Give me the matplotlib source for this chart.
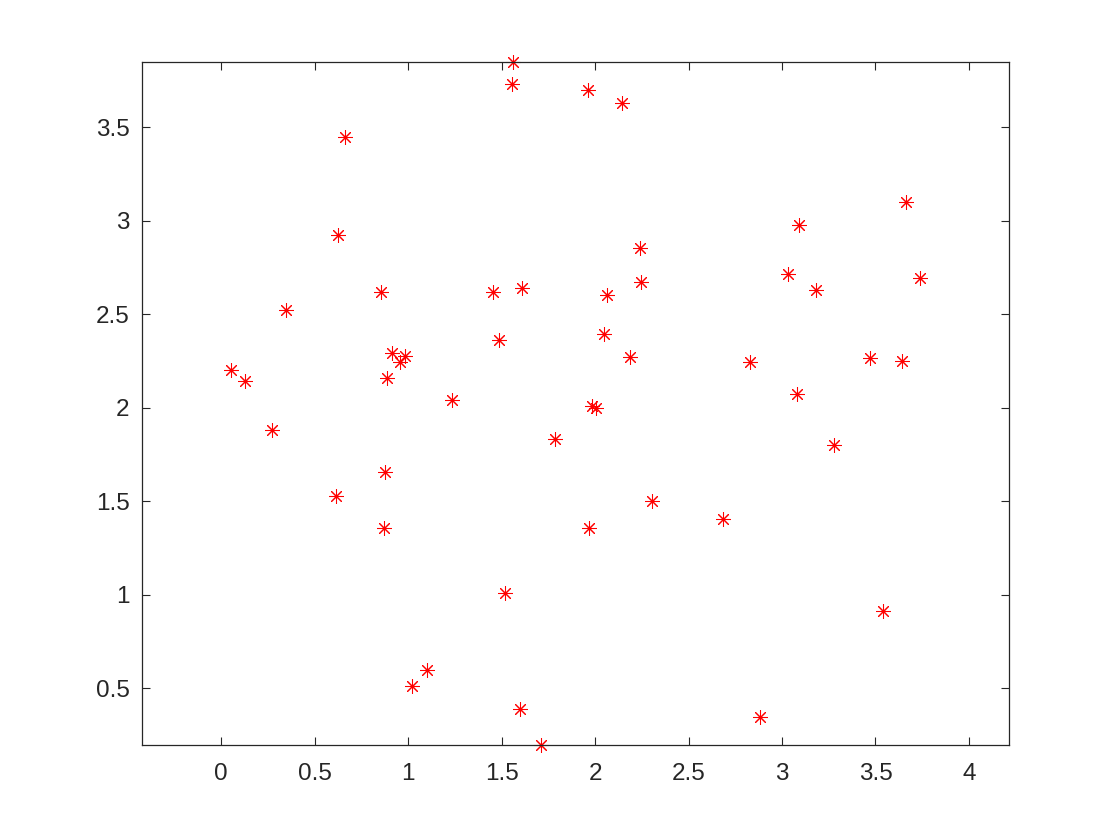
import matplotlib
matplotlib.use("Agg")
import matplotlib.pyplot as plt

# valeurs
x = [0.052, 0.127, 0.271, 0.346, 0.614, 0.624, 0.662, 0.854, 0.871, 0.876,
     0.888, 0.915, 0.956, 0.983, 1.020, 1.101, 1.234, 1.454, 1.486, 1.518,
     1.557, 1.562, 1.598, 1.609, 1.711, 1.785, 1.962, 1.967, 1.982, 2.005,
     2.048, 2.064, 2.144, 2.187, 2.240, 2.246, 2.304, 2.684, 2.829, 2.882,
     3.032, 3.080, 3.091, 3.182, 3.278, 3.471, 3.540, 3.642, 3.663, 3.738]
y = [2.201, 2.143, 1.880, 2.522, 1.527, 2.924, 3.448, 2.619, 1.356, 1.656,
     2.160, 2.294, 2.243, 2.276, 0.511, 0.596, 2.041, 2.619, 2.362, 1.008,
     3.732, 3.851, 0.388, 2.640, 0.194, 1.832, 3.700, 1.356, 2.010, 1.997,
     2.394, 2.603, 3.630, 2.271, 2.854, 2.672, 1.500, 1.404, 2.244, 0.345,
     2.715, 2.073, 2.977, 2.629, 1.800, 2.266, 0.912, 2.250, 3.100, 2.694]

xticks = [0, 0.5, 1, 1.5, 2, 2.5, 3, 3.5, 4]
yticks = [0.5, 1, 1.5, 2, 2.5, 3, 3.5]

plt.rcParams['font.family'] = ['Liberation Sans', 'DejaVu Sans']

fig = plt.figure(figsize=(11.11, 8.32), dpi=100)
ax = fig.add_axes([0.128, 0.1042, 0.7805, 0.8216])

# marqueurs non coupés au bord, comme sous MATLAB
ax.plot(x, y, linestyle='none', marker=(8, 2, 0), markersize=10.5,
        markeredgewidth=0.75, color='red', clip_on=False)

ax.set_xlim(-0.4227, 4.216)
ax.set_ylim(0.1934, 3.851)
ax.set_xticks(xticks)
ax.set_xticklabels(['0', '0.5', '1', '1.5', '2', '2.5', '3', '3.5', '4'])
ax.set_yticks(yticks)
ax.set_yticklabels(['0.5', '1', '1.5', '2', '2.5', '3', '3.5'])

ax.tick_params(direction='in', length=6, width=0.8, top=True, right=True,
               labelsize=17.5, colors='#262626')
ax.tick_params(axis='x', pad=13)
ax.tick_params(axis='y', pad=9)
for s in ax.spines.values():
    s.set_color('#262626')
    s.set_linewidth(0.9)

fig.savefig('out.png', dpi=100)
